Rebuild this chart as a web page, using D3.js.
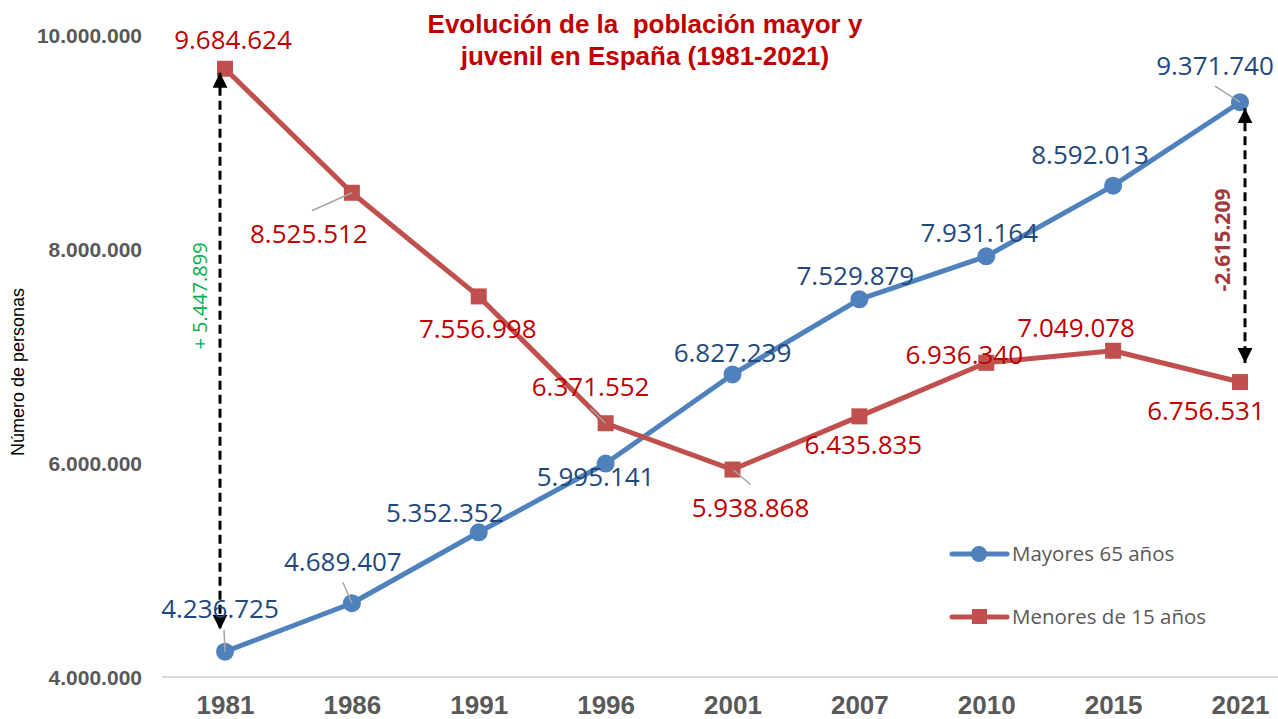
<!DOCTYPE html>
<html>
<head>
<meta charset="utf-8">
<script src="https://cdn.jsdelivr.net/npm/d3@7"></script>
<style>
  body { margin: 0; background: #fff; }
  text { font-family: "Liberation Sans", Arial, sans-serif; }
  .lbl { font-family: "Open Sans", "Noto Sans", sans-serif; font-size: 26px; }
</style>
</head>
<body>
<svg class="chart"></svg>
<script>
var years = ["1981", "1986", "1991", "1996", "2001", "2007", "2010", "2015", "2021"];
var mayores = [4236725, 4689407, 5352352, 5995141, 6827239, 7529879, 7931164, 8592013, 9371740];
var menores = [9684624, 8525512, 7556998, 6371552, 5938868, 6435835, 6936340, 7049078, 6756531];
var yTicks = [4000000, 6000000, 8000000, 10000000];

// label offsets from each point (center x, baseline y)
var offMay = [[-5,-34],[-9,-32],[-34,-10],[-10,22],[0,-12],[-4,-14],[-7,-14],[-23,-22],[-25,-27]];
var offMen = [[8,-20],[-43,50],[-1,42],[-15,-27],[18,47],[4,38],[-22,1],[-37,-14],[-34,38]];
// little grey leader lines: [start dx, start dy, end dx, end dy]
var leadMay = {0:[-1,-22,0,0], 1:[-9,-21,0,0], 8:[-25,-16,0,0]};
var leadMen = {1:[-40,18,0,0], 3:[-15,-15,0,0], 4:[1,0.5,18,15]};

var width = 1278, height = 719;
var svg = d3.select(".chart").attr("width", width).attr("height", height);

var fmt = function(v){ return d3.format(",")(v).replace(/,/g, ".").replace("\u2212", "-"); };

var x = d3.scalePoint().domain(years).range([225, 1240]);
var y = d3.scaleLinear().domain([4000000, 10000000]).range([677, 35]);

// axis line
svg.append("line")
    .attr("x1", 162).attr("x2", 1278)
    .attr("y1", y(4000000)).attr("y2", y(4000000))
    .attr("stroke", "#d9d9d9").attr("stroke-width", 2);

var xAxis = svg.append("g")
    .attr("transform", "translate(0," + 696 + ")")
    .call(d3.axisBottom(x).tickSize(0).tickPadding(0));
xAxis.select(".domain").remove();
xAxis.selectAll("text")
    .attr("dy", "0.71em")
    .attr("y", 0)
    .style("font-family", "'Liberation Sans', Arial, sans-serif")
    .style("font-size", "26px").style("font-weight", "bold").attr("fill", "#595959");

var yAxis = svg.append("g")
    .attr("transform", "translate(142,0)")
    .call(d3.axisLeft(y).tickValues(yTicks).tickFormat(fmt).tickSize(0).tickPadding(0));
yAxis.select(".domain").remove();
yAxis.selectAll("text")
    .attr("dy", "0.36em")
    .style("font-family", "'Liberation Sans', Arial, sans-serif")
    .style("font-size", "21px").style("font-weight", "bold").attr("fill", "#595959");

// title
var title = svg.append("text")
    .attr("text-anchor", "middle")
    .attr("fill", "#C00000")
    .style("font-size", "26px").style("font-weight", "bold")
    .style("white-space", "pre");
title.append("tspan").attr("x", 645).attr("y", 33).text("Evolución de la  población mayor y");
title.append("tspan").attr("x", 645).attr("y", 65).text("juvenil en España (1981-2021)");

svg.append("text")
    .attr("transform", "translate(24,372) rotate(-90)")
    .attr("text-anchor", "middle")
    .attr("fill", "#000")
    .style("font-size", "18px")
    .text("Número de personas");

var line = d3.line()
    .x(function(d, i){ return x(years[i]); })
    .y(function(d){ return y(d); });

var blue = "#4F81BD", red = "#C0504D";

svg.append("path").datum(mayores).attr("d", line)
    .attr("fill", "none").attr("stroke", blue).attr("stroke-width", 5).attr("stroke-linejoin", "round");
svg.append("path").datum(menores).attr("d", line)
    .attr("fill", "none").attr("stroke", red).attr("stroke-width", 5).attr("stroke-linejoin", "round");

svg.selectAll(".dotM").data(mayores).enter().append("circle")
    .attr("cx", function(d, i){ return x(years[i]); })
    .attr("cy", function(d){ return y(d); })
    .attr("r", 9).attr("fill", blue);

svg.selectAll(".sqM").data(menores).enter().append("rect")
    .attr("x", function(d, i){ return x(years[i]) - 8; })
    .attr("y", function(d){ return y(d) - 8; })
    .attr("width", 16).attr("height", 16).attr("fill", red);

// arrows
var defs = svg.append("defs");
defs.append("marker").attr("id", "arr")
    .attr("viewBox", "0 0 10 10").attr("refX", 10).attr("refY", 5)
    .attr("markerWidth", 5).attr("markerHeight", 5)
    .attr("markerUnits", "strokeWidth")
    .attr("orient", "auto-start-reverse")
  .append("path").attr("d", "M0,0 L10,5 L0,10 Z").attr("fill", "#000");

function arrow(xp, y1, y2){
  svg.append("line")
      .attr("x1", xp).attr("x2", xp).attr("y1", y1).attr("y2", y2)
      .attr("stroke", "#000").attr("stroke-width", 3)
      .attr("stroke-dasharray", "9,5")
      .attr("marker-start", "url(#arr)").attr("marker-end", "url(#arr)");
}
arrow(x("1981") - 5, y(menores[0]) + 4, y(mayores[0]) - 22);
arrow(x("2021") + 5, y(mayores[8]) + 6, y(menores[8]) - 19);

svg.append("text")
    .attr("class", "lbl")
    .attr("transform", "translate(207,296) rotate(-90)")
    .attr("text-anchor", "middle")
    .attr("fill", "#00B050")
    .style("font-size", "20px")
    .text("+ " + fmt(menores[0] - mayores[0]));

svg.append("text")
    .attr("class", "lbl")
    .attr("transform", "translate(1230,240) rotate(-90)")
    .attr("text-anchor", "middle")
    .attr("fill", "#A33A3A")
    .style("font-size", "21px").style("font-weight", "bold")
    .text(fmt(menores[8] - mayores[8]));

// leader lines
function leaders(vals, lead){
  Object.keys(lead).forEach(function(k){
    var px = x(years[k]), py = y(vals[k]), o = lead[k];
    svg.append("line")
        .attr("x1", px + o[0]).attr("y1", py + o[1])
        .attr("x2", px + o[2]).attr("y2", py + o[3])
        .attr("stroke", "#A6A6A6").attr("stroke-width", 1.5);
  });
}
leaders(mayores, leadMay);
leaders(menores, leadMen);

// data labels
svg.selectAll(".lm").data(mayores).enter().append("text")
    .attr("class", "lbl")
    .attr("x", function(d, i){ return x(years[i]) + offMay[i][0]; })
    .attr("y", function(d, i){ return y(d) + offMay[i][1]; })
    .attr("text-anchor", "middle")
    .attr("fill", "#1F497D")
    .text(fmt);

svg.selectAll(".ln").data(menores).enter().append("text")
    .attr("class", "lbl")
    .attr("x", function(d, i){ return x(years[i]) + offMen[i][0]; })
    .attr("y", function(d, i){ return y(d) + offMen[i][1]; })
    .attr("text-anchor", "middle")
    .attr("fill", "#C00000")
    .text(fmt);

// legend
var legend = [["Mayores 65 años", blue, "c", 554], ["Menores de 15 años", red, "s", 617]];
legend.forEach(function(l){
  svg.append("line").attr("x1", 952).attr("x2", 1007).attr("y1", l[3]).attr("y2", l[3])
      .attr("stroke", l[1]).attr("stroke-width", 5).attr("stroke-linecap", "round");
  if (l[2] == "c") {
    svg.append("circle").attr("cx", 979).attr("cy", l[3]).attr("r", 8).attr("fill", l[1]);
  } else {
    svg.append("rect").attr("x", 972).attr("y", l[3] - 8).attr("width", 15).attr("height", 15).attr("fill", l[1]);
  }
  svg.append("text").attr("class", "lbl")
      .attr("x", 1012).attr("y", l[3]).attr("dy", "0.35em")
      .attr("fill", "#595959").style("font-size", "20.5px")
      .text(l[0]);
});
</script>
</body>
</html>
